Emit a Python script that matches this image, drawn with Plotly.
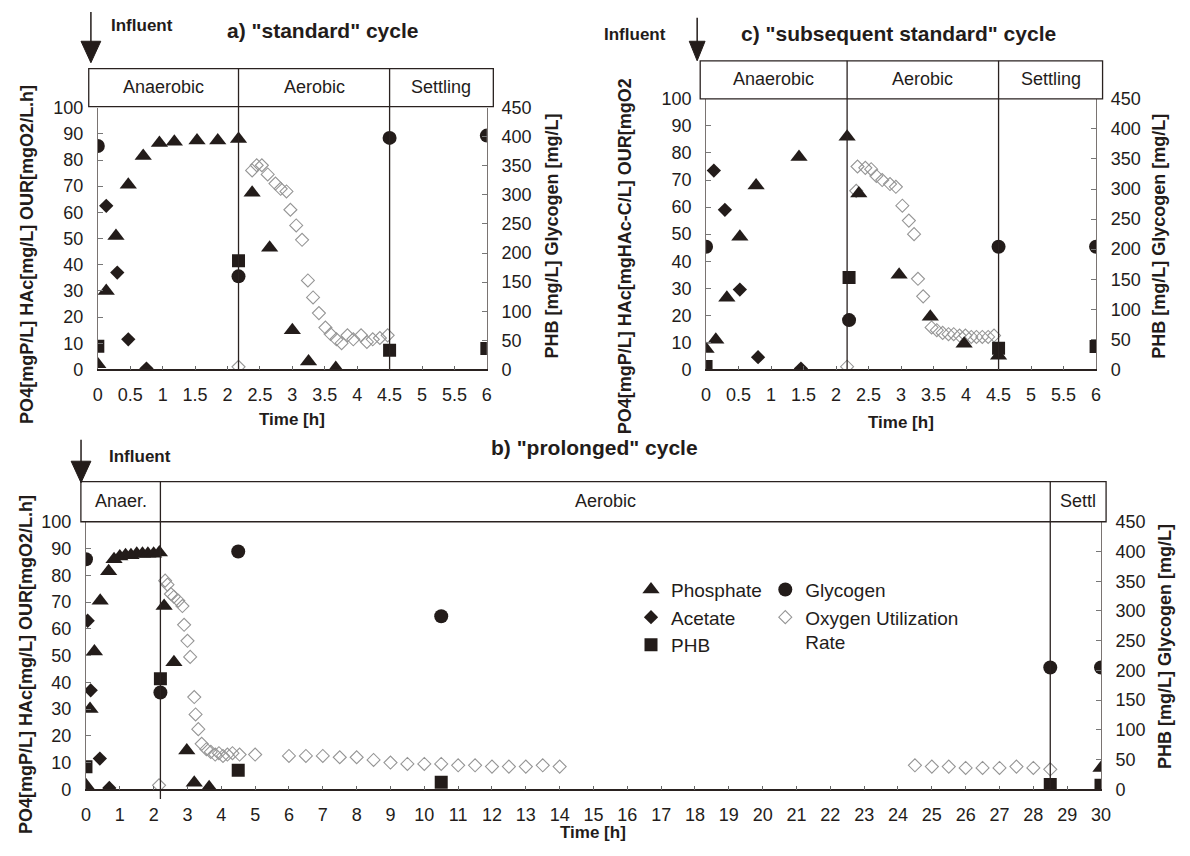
import plotly.graph_objects as go

W, H = 1190, 856
INK = "#231c1a"
OUR_C = "#969696"
FONT = "Liberation Sans, Arial, sans-serif"

# ---------------- a) "standard" cycle ----------------
a_po4_t = [0, 0.13, 0.28, 0.47, 0.7, 0.95, 1.18, 1.53, 1.85, 2.17, 2.38, 2.65, 3.0, 3.25, 3.67]
a_po4 = [2, 30, 51, 70.5, 81.5, 86.5, 87, 87.5, 87.5, 88, 67.5, 46.5, 15, 3, 0.5]
a_hac_t = [0.13, 0.3, 0.47, 0.75]
a_hac = [62.5, 37, 11.5, 0.3]
a_phb_t = [0, 2.17, 4.5, 6]
a_phb = [40, 187, 33, 36]
a_gly_t = [0, 2.17, 4.5, 6]
a_gly = [384, 160, 398, 402]
a_our_t = [2.17, 2.38, 2.45, 2.53, 2.62, 2.74, 2.82, 2.91, 2.97, 3.06, 3.15, 3.24, 3.32,
           3.41, 3.51, 3.59, 3.68, 3.76, 3.85, 3.94, 4.06, 4.15, 4.24, 4.35, 4.47]
a_our = [1, 76, 78, 78, 74.5, 71, 69, 68, 61, 55, 49.5, 34, 27.5,
         21.5, 16, 13.5, 11.5, 10, 13, 11.5, 13, 10.5, 11.5, 12, 13]

# ---------------- c) "subsequent standard" cycle ----------------
c_po4_t = [0, 0.15, 0.32, 0.52, 0.77, 1.43, 2.17, 2.35, 2.97, 3.45, 3.97, 4.5]
c_po4 = [7.5, 11, 26.5, 49, 68, 78.5, 86, 65, 35, 19.5, 9.5, 5]
c_hac_t = [0.12, 0.29, 0.52, 0.8, 1.46]
c_hac = [73.5, 59, 29.5, 4.5, 0.3]
c_phb_t = [0, 2.2, 4.5, 6]
c_phb = [5, 153, 35, 38]
c_gly_t = [0, 2.2, 4.5, 6]
c_gly = [204, 82, 204, 204]
c_our_t = [2.17, 2.31, 2.33, 2.45, 2.54, 2.62, 2.71, 2.83, 2.92, 3.02, 3.12, 3.2, 3.26,
           3.34, 3.47, 3.55, 3.64, 3.73, 3.81, 3.9, 3.99, 4.08, 4.16, 4.25, 4.34, 4.43]
c_our = [1, 66, 75, 74.5, 74, 71.5, 70, 68.5, 67.5, 60.5, 55, 50, 33.5,
         27, 15.5, 14.5, 13.5, 13, 13, 12.5, 12.5, 12, 12, 12, 12, 12.5]

# ---------------- b) "prolonged" cycle ----------------
b_po4_t = [0, 0.12, 0.25, 0.42, 0.67, 0.83, 1.0, 1.17, 1.33, 1.5, 1.67, 1.83, 2.0, 2.17,
           2.31, 2.6, 2.98, 3.2, 3.64, 30]
b_po4 = [1.5, 30, 51.5, 70.5, 81.5, 86, 87, 87.5, 87.5, 88, 88, 88, 88, 88.5,
         68.5, 47.5, 14.5, 2.5, 0.8, 8]
b_hac_t = [0.05, 0.14, 0.41, 0.69]
b_hac = [63, 37, 11.5, 0.5]
b_phb_t = [0, 2.2, 4.5, 10.5, 28.5, 30]
b_phb = [38, 186, 32, 12, 8, 7]
b_gly_t = [0, 2.2, 4.5, 10.5, 28.5, 30]
b_gly = [387, 163, 400, 291, 205, 205]
b_our_t = [2.16, 2.34, 2.41, 2.51, 2.6, 2.73, 2.85, 2.9, 3.0, 3.08, 3.2, 3.24, 3.32, 3.42,
           3.56, 3.69, 3.82, 3.93, 4.05, 4.18, 4.33, 4.54, 5.0,
           6.0, 6.5, 7.0, 7.5, 8.0, 8.5, 9.0, 9.5, 10.0, 10.5, 11.0, 11.5, 12.0, 12.5,
           13.0, 13.5, 14.0,
           24.5, 25.0, 25.5, 26.0, 26.5, 27.0, 27.5, 28.0, 28.5]
b_our = [1.5, 78, 76.5, 73, 72, 70.5, 68.5, 61.5, 55.5, 49.5, 34.5, 28, 22.5, 17,
         15, 14, 13, 13.5, 12.5, 13, 13.5, 13, 13,
         12.5, 12.5, 12.5, 12, 12, 11, 10, 9.5, 9.5, 9.5, 9, 9, 8.5, 8.5,
         8.5, 9, 8.5,
         9, 8.5, 8.5, 8, 8, 8, 8.5, 8, 7.5]

# phase boundaries [h]
std_phases = [("Anaerobic", -0.14, 2.17), ("Aerobic", 2.17, 4.5), ("Settling", 4.5, 6.1)]
sub_phases = [("Anaerobic", -0.09, 2.17), ("Aerobic", 2.17, 4.5), ("Settling", 4.5, 6.1)]
pro_phases = [("Anaer.", -0.15, 2.2), ("Aerobic", 2.2, 28.5), ("Settl", 28.5, 30.15)]

LEFT_TITLE = "PO4[mgP/L] HAc[mg/L] OUR[mgO2/L.h]"
LEFT_TITLE_C = "PO4[mgP/L] HAc[mgHAc-C/L] OUR[mgO2"
RIGHT_TITLE = "PHB [mg/L] Glycogen [mg/L]"


def fx(p):
    return p / W


def fy(p):
    return 1 - p / H


fig = go.Figure()

# pixel frames of the three panels
frames = {
    "a": dict(x="x", yl="y", yr="y2", px=(94, 488), py=(100, 368), box=(60, 99), xr=(0, 6)),
    "c": dict(x="x2", yl="y3", yr="y4", px=(710, 1105), py=(91, 368), box=(52, 91), xr=(0, 6)),
    "b": dict(x="x3", yl="y5", yr="y6", px=(82, 1110), py=(524, 798), box=(483, 524), xr=(0, 30)),
}

SERIES = {
    "a": [(a_our_t, a_our, "our"), (a_po4_t, a_po4, "po4"), (a_hac_t, a_hac, "hac"),
          (a_phb_t, a_phb, "phb"), (a_gly_t, a_gly, "gly")],
    "c": [(c_our_t, c_our, "our"), (c_po4_t, c_po4, "po4"), (c_hac_t, c_hac, "hac"),
          (c_phb_t, c_phb, "phb"), (c_gly_t, c_gly, "gly")],
    "b": [(b_our_t, b_our, "our"), (b_po4_t, b_po4, "po4"), (b_hac_t, b_hac, "hac"),
          (b_phb_t, b_phb, "phb"), (b_gly_t, b_gly, "gly")],
}

STYLE = {
    "po4": dict(symbol="triangle-up", size=15, color=INK, name="Phosphate", right=False, legend="legend"),
    "hac": dict(symbol="diamond", size=11, color=INK, name="Acetate", right=False, legend="legend"),
    "phb": dict(symbol="square", size=13, color=INK, name="PHB", right=True, legend="legend"),
    "gly": dict(symbol="circle", size=14, color=INK, name="Glycogen", right=True, legend="legend2"),
    "our": dict(symbol="diamond-open", size=10, color=OUR_C, name="Oxygen Utilization<br>Rate",
                right=False, legend="legend2"),
}

legend_rank = {"po4": 1, "hac": 2, "phb": 3, "gly": 1, "our": 2}

for key, fr in frames.items():
    for t, v, kind in SERIES[key]:
        st = STYLE[kind]
        fig.add_trace(go.Scatter(
            x=t, y=v, mode="markers",
            xaxis=fr["x"], yaxis=fr["yr"] if st["right"] else fr["yl"],
            name=st["name"], legend=st["legend"], legendrank=legend_rank[kind],
            showlegend=(key == "b"),
            marker=dict(symbol=st["symbol"], size=st["size"], color=st["color"],
                        line=dict(width=1.1 if kind == "our" else 0, color=st["color"])),
            cliponaxis=True,
        ))

tickfont = dict(family=FONT, size=18, color=INK)


def xaxis_cfg(fr, dtick, anchor):
    return dict(domain=[fx(fr["px"][0]), fx(fr["px"][1])], range=list(fr["xr"]), dtick=dtick,
                tick0=0, anchor=anchor, showline=True, linecolor="#2a2220", linewidth=1.5,
                ticks="inside", ticklen=4, tickcolor="#666", showgrid=False, zeroline=False,
                tickfont=tickfont, ticklabelstandoff=8)


def yaxis_cfg(fr, rng, dtick, anchor, side="left", overlay=None):
    cfg = dict(domain=[fy(fr["py"][1]), fy(fr["py"][0])], range=rng, dtick=dtick, tick0=0,
               anchor=anchor, side=side, showline=True, linecolor="#7a7472", linewidth=1,
               ticks="inside", ticklen=5, tickcolor="#777", showgrid=False, zeroline=False,
               tickfont=tickfont, ticklabelstandoff=10)
    if overlay:
        cfg["overlaying"] = overlay
    return cfg


fa, fc, fb = frames["a"], frames["c"], frames["b"]
fig.update_layout(
    xaxis=xaxis_cfg(fa, 0.5, "y"),
    yaxis=yaxis_cfg(fa, [0, 100], 10, "x"),
    yaxis2=yaxis_cfg(fa, [0, 450], 50, "x", "right", "y"),
    xaxis2=xaxis_cfg(fc, 0.5, "y3"),
    yaxis3=yaxis_cfg(fc, [0, 100], 10, "x2"),
    yaxis4=yaxis_cfg(fc, [0, 450], 50, "x2", "right", "y3"),
    xaxis3=xaxis_cfg(fb, 1, "y5"),
    yaxis5=yaxis_cfg(fb, [0, 100], 10, "x3"),
    yaxis6=yaxis_cfg(fb, [0, 450], 50, "x3", "right", "y5"),
)

shapes = []
annotations = []


def text(x, y, s, size, bold=False, angle=0, xref="paper", xanchor="center"):
    annotations.append(dict(
        x=x, y=y, xref=xref, yref="paper", text=f"<b>{s}</b>" if bold else s,
        showarrow=False, textangle=angle, xanchor=xanchor, yanchor="middle",
        font=dict(family=FONT, size=size, color=INK)))


def hour_to_px(fr, t):
    (p0, p1), (t0, t1) = fr["px"], fr["xr"]
    return p0 + (t - t0) / (t1 - t0) * (p1 - p0)


def phase_box(fr, phases, label_y, drop=0):
    top, bottom = fr["box"]
    left = hour_to_px(fr, phases[0][1])
    right = hour_to_px(fr, phases[-1][2])
    shapes.append(dict(type="rect", xref="paper", yref="paper", x0=fx(left), x1=fx(right),
                       y0=fy(bottom), y1=fy(top), line=dict(color="#2a2220", width=1.3)))
    for i, (name, s, e) in enumerate(phases):
        text((s + e) / 2, fy(label_y), name, 18, xref=fr["x"])
        if i > 0:
            end = fr["py"][1] + (drop if i == 1 else 0)
            shapes.append(dict(type="line", xref=fr["x"], yref="paper", x0=s, x1=s,
                               y0=fy(end), y1=fy(top), line=dict(color="#2a2220", width=1.3)))


phase_box(fa, std_phases, 79)
phase_box(fc, sub_phases, 71)
phase_box(fb, pro_phases, 503, drop=10)


def influent_arrow(x, y0, y1, head, half):
    shapes.append(dict(type="line", xref="paper", yref="paper", x0=fx(x), x1=fx(x),
                       y0=fy(y0), y1=fy(y1 - head + 1), line=dict(color=INK, width=1.5)))
    path = (f"M {fx(x - half)} {fy(y1 - head)} L {fx(x + half)} {fy(y1 - head)} "
            f"L {fx(x)} {fy(y1)} Z")
    shapes.append(dict(type="path", xref="paper", yref="paper", path=path,
                       fillcolor=INK, line=dict(color=INK, width=1)))


influent_arrow(87, 2, 54, 22, 10)
influent_arrow(701, 8, 52, 20, 8)
influent_arrow(77, 440, 484, 22, 10)

# titles and labels
text(fx(322), fy(21), 'a) "standard" cycle', 21, bold=True)
text(fx(905), fy(24), 'c) "subsequent standard" cycle', 21, bold=True)
text(fx(597), fy(448), 'b) "prolonged" cycle', 21, bold=True)
text(fx(105), fy(16), "Influent", 17, bold=True, xanchor="left")
text(fx(605), fy(25), "Influent", 17, bold=True, xanchor="left")
text(fx(103), fy(457), "Influent", 17, bold=True, xanchor="left")

text(fx(291), fy(419), "Time [h]", 17, bold=True)
text(fx(907), fy(422), "Time [h]", 17, bold=True)
text(fx(596), fy(842), "Time [h]", 17, bold=True)

text(fx(22), fy(250), LEFT_TITLE, 18, bold=True, angle=-90)
text(fx(554), fy(232), RIGHT_TITLE, 18, bold=True, angle=-90)
text(fx(628), fy(252), LEFT_TITLE_C, 18, bold=True, angle=-90)
text(fx(1168), fy(232), RIGHT_TITLE, 18, bold=True, angle=-90)
text(fx(22), fy(670), LEFT_TITLE, 18, bold=True, angle=-90)
text(fx(1175), fy(652), RIGHT_TITLE, 18, bold=True, angle=-90)

legend_common = dict(font=dict(family=FONT, size=19, color=INK), bgcolor="rgba(0,0,0,0)",
                     borderwidth=0, itemwidth=30, xanchor="left", yanchor="top",
                     itemsizing="trace", tracegroupgap=0, valign="top")

fig.update_layout(
    width=W, height=H, autosize=False,
    margin=dict(l=0, r=0, t=0, b=0),
    paper_bgcolor="white", plot_bgcolor="white",
    shapes=shapes, annotations=annotations,
    legend=dict(x=fx(634), y=fy(574), **legend_common),
    legend2=dict(x=fx(770), y=fy(574), **legend_common),
)

fig.write_html("out.html")
